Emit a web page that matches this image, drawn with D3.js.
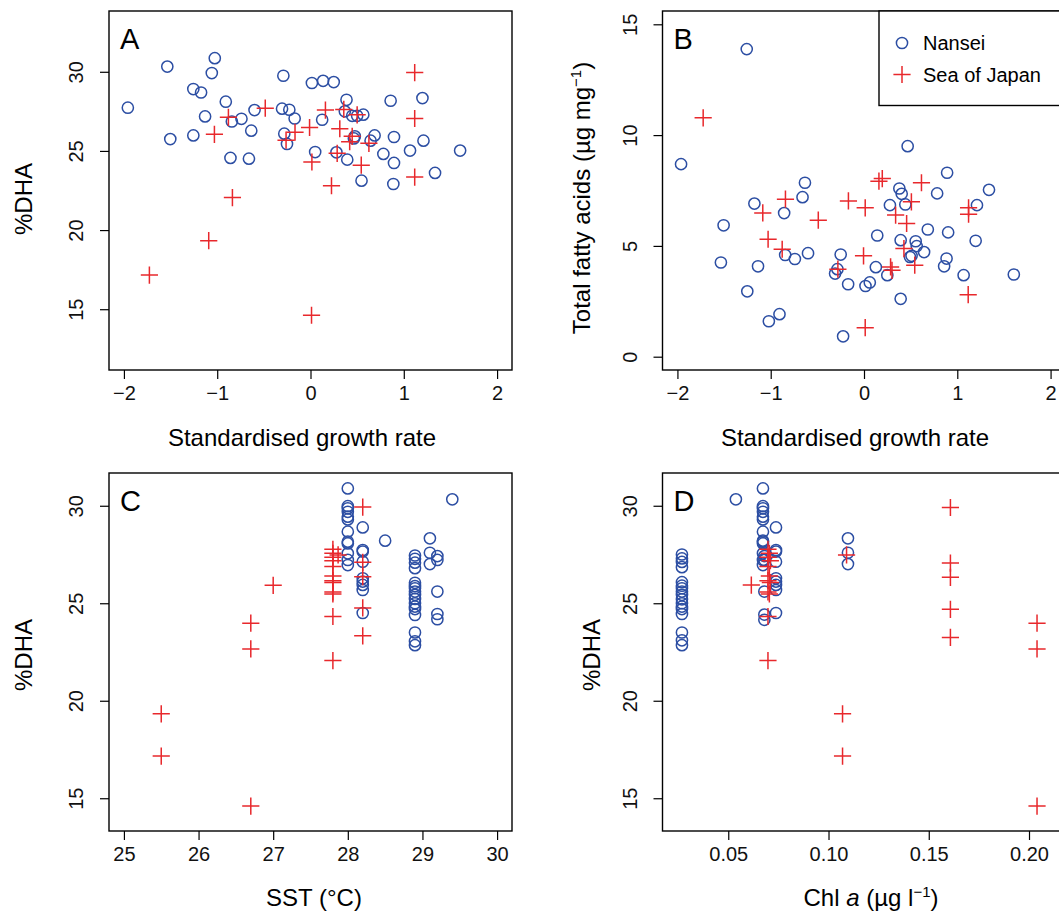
<!DOCTYPE html>
<html>
<head>
<meta charset="utf-8">
<script src="https://cdn.jsdelivr.net/npm/d3@7/dist/d3.min.js"></script>
<style>
  body { margin: 0; background: #fff; }
  svg { font-family: "Liberation Sans", Arial, Helvetica, sans-serif; }
</style>
</head>
<body>
<svg id="chart" width="1059" height="914"></svg>
<script>
'use strict';

/* Data: [x, %DHA] or [x, total FA] pairs */

// A: standardised growth rate vs %DHA
var growthDhaNansei = [
  [-1.958, 27.73], [-1.535, 30.33], [-1.503, 25.75], [-1.256, 28.91], [-1.173, 28.69],
  [-1.256, 25.98], [-1.13, 27.18], [-1.026, 30.86], [-1.058, 29.92], [-0.908, 28.11],
  [-0.843, 26.86], [-0.74, 27.03], [-0.858, 24.56], [-0.635, 26.28], [-0.66, 24.51],
  [-0.60, 27.58], [-0.291, 29.75], [-0.305, 27.67], [-0.227, 27.60], [-0.17, 27.05],
  [-0.281, 26.09], [-0.252, 25.44], [0.015, 29.29], [0.135, 29.43], [0.249, 29.35],
  [0.125, 26.97], [0.05, 24.93], [0.278, 24.91], [0.386, 28.23], [0.368, 27.50],
  [0.447, 27.22], [0.50, 27.22], [0.566, 27.29], [0.475, 25.92], [0.465, 25.79],
  [0.394, 24.45], [0.547, 23.12], [0.644, 25.65], [0.687, 25.98], [0.781, 24.81],
  [0.859, 28.17], [0.895, 25.88], [0.895, 24.24], [0.888, 22.91], [1.067, 25.02],
  [1.2, 28.34], [1.211, 25.65], [1.335, 23.61], [1.604, 25.02]
];
var growthDhaJapan = [
  [-1.727, 17.16], [-1.091, 19.33], [-0.837, 22.05], [-1.03, 26.05], [-0.88, 27.12],
  [-0.485, 27.70], [-0.262, 25.68], [-0.166, 26.18], [-0.01, 26.48], [0.015, 24.30],
  [0.011, 14.62], [0.16, 27.58], [0.225, 22.80], [0.314, 26.40], [0.286, 24.85],
  [0.357, 27.62], [0.50, 27.28], [0.42, 25.58], [0.447, 25.92], [0.544, 24.10],
  [0.626, 25.48], [1.117, 29.95], [1.117, 27.05], [1.117, 23.35]
];

// B: standardised growth rate vs total fatty acids
var growthTfaNansei = [
  [-1.257, 13.88], [-1.961, 8.69], [-0.633, 7.85], [-0.659, 7.20], [-1.175, 6.91],
  [-0.856, 6.48], [-1.505, 5.93], [-1.534, 4.25], [-1.136, 4.08], [-0.845, 4.59],
  [-0.741, 4.41], [-0.60, 4.67], [-1.251, 2.95], [-1.020, 1.60], [-0.906, 1.92],
  [-0.25, 4.61], [-0.285, 3.95], [-0.31, 3.75], [-0.17, 3.27], [-0.224, 0.92],
  [0.468, 9.50], [0.891, 8.30], [1.34, 7.53], [0.379, 7.59], [0.404, 7.35],
  [0.784, 7.37], [0.278, 6.84], [0.443, 6.87], [1.211, 6.84], [0.684, 5.74],
  [0.902, 5.61], [0.142, 5.47], [1.197, 5.23], [0.393, 5.26], [0.554, 5.21],
  [0.565, 4.99], [0.644, 4.72], [0.493, 4.50], [0.51, 4.55], [0.885, 4.43],
  [0.859, 4.08], [0.127, 4.04], [0.25, 3.68], [1.068, 3.68], [1.606, 3.71],
  [0.062, 3.35], [0.016, 3.19], [0.393, 2.61]
];
var growthTfaJapan = [
  [-1.724, 10.78], [-1.085, 6.49], [-0.842, 7.11], [-1.028, 5.30], [-0.877, 4.85],
  [-0.49, 6.16], [-0.28, 3.95], [-0.167, 7.03], [0.013, 6.72], [-0.005, 4.55],
  [0.013, 1.31], [0.16, 7.92], [0.196, 8.04], [0.339, 6.39], [0.508, 6.99],
  [0.457, 6.01], [0.616, 7.85], [0.428, 4.88], [0.544, 4.13], [0.30, 3.90],
  [0.285, 4.05], [1.121, 6.72], [1.121, 6.43], [1.117, 2.80]
];

// C: SST vs %DHA
var sstDhaNansei = [
  [28.0, 30.89], [28.0, 29.98], [28.0, 29.87], [28.0, 29.69], [28.0, 29.44], [28.0, 29.30],
  [28.0, 28.67], [28.0, 28.16], [28.0, 28.07], [28.0, 27.56], [28.0, 27.22], [28.0, 26.96],
  [28.2, 28.89], [28.2, 27.73], [28.2, 27.65], [28.2, 27.13], [28.2, 26.28], [28.2, 26.11],
  [28.2, 25.94], [28.2, 25.68], [28.2, 24.50], [28.5, 28.21], [29.4, 30.33],
  [28.9, 27.45], [28.9, 27.28], [28.9, 27.08], [28.9, 26.80], [28.9, 26.05], [28.9, 25.88],
  [28.9, 25.77], [28.9, 25.60], [28.9, 25.43], [28.9, 25.22], [28.9, 25.00], [28.9, 24.83],
  [28.9, 24.70], [28.9, 24.40], [28.9, 23.50], [28.9, 23.05], [28.9, 22.85],
  [29.1, 28.33], [29.1, 27.59], [29.1, 27.01],
  [29.2, 27.42], [29.2, 27.22], [29.2, 25.60], [29.2, 24.45], [29.2, 24.18]
];
var sstDhaJapan = [
  [25.5, 19.33], [25.5, 17.16], [26.7, 23.98], [26.7, 22.66], [26.7, 14.60], [27.0, 25.92],
  [27.8, 27.77], [27.8, 27.56], [27.8, 27.36], [27.8, 27.18], [27.8, 26.88], [27.8, 26.40],
  [27.8, 26.16], [27.8, 26.06], [27.8, 25.58], [27.8, 25.48], [27.8, 24.32], [27.8, 22.06],
  [27.87, 27.48],
  [28.2, 29.93], [28.2, 27.10], [28.2, 26.36], [28.2, 24.76], [28.2, 23.33]
];

// D: Chl a vs %DHA
var chlDhaNansei = [
  [0.0269, 27.50], [0.0269, 27.30], [0.0269, 27.12], [0.0269, 26.85], [0.0269, 26.08],
  [0.0269, 25.90], [0.0269, 25.77], [0.0269, 25.60], [0.0269, 25.43], [0.0269, 25.20],
  [0.0269, 25.00], [0.0269, 24.83], [0.0269, 24.70], [0.0269, 24.45], [0.0269, 23.50],
  [0.0269, 23.10], [0.0269, 22.85],
  [0.0538, 30.33],
  [0.0673, 30.89], [0.0673, 29.98], [0.0673, 29.87], [0.0673, 29.69], [0.0673, 29.44],
  [0.0673, 29.30], [0.0673, 28.67], [0.0673, 28.16], [0.0673, 28.07], [0.0673, 27.56],
  [0.0673, 27.22], [0.0673, 26.96], [0.0673, 28.21],
  [0.068, 27.42], [0.068, 27.22], [0.068, 25.60], [0.068, 24.42], [0.068, 24.15],
  [0.0738, 28.89], [0.0738, 27.73], [0.0738, 27.65], [0.0738, 27.13], [0.0738, 26.28],
  [0.0738, 26.11], [0.0738, 25.94], [0.0738, 25.68], [0.0738, 24.50],
  [0.1097, 28.33], [0.1097, 27.59], [0.1097, 27.01]
];
var chlDhaJapan = [
  [0.0615, 25.93],
  [0.0698, 27.77], [0.0705, 27.56], [0.0698, 27.36], [0.071, 27.18], [0.0698, 26.88],
  [0.0705, 26.40], [0.0698, 26.16], [0.071, 26.06], [0.0698, 25.58], [0.0705, 25.48],
  [0.0698, 24.32], [0.0698, 22.06],
  [0.109, 27.48], [0.107, 19.33], [0.107, 17.16],
  [0.1608, 29.91], [0.1608, 27.06], [0.1608, 26.33], [0.1608, 24.69], [0.1608, 23.25],
  [0.204, 23.98], [0.204, 22.66], [0.204, 14.60]
];

// tick values
var growthTicks = [-2, -1, 0, 1, 2];
var dhaTicks = [15, 20, 25, 30];
var tfaTicks = [0, 5, 10, 15];
var sstTicks = [25, 26, 27, 28, 29, 30];
var chlTicks = [0.05, 0.10, 0.15, 0.20];

var legendLabels = ['Nansei', 'Sea of Japan'];

var BLUE = '#2c4ea3';
var RED = '#e8282c';
var PANEL_W = 403;

var svg = d3.select('#chart');

function drawCircles(g, data, x, y) {
  g.selectAll(null).data(data).enter().append('circle')
    .attr('cx', function(d) { return x(d[0]); })
    .attr('cy', function(d) { return y(d[1]); })
    .attr('r', 5.6)
    .attr('fill', 'none')
    .attr('stroke', BLUE)
    .attr('stroke-width', 1.5);
}

function drawCrosses(g, data, x, y) {
  g.selectAll(null).data(data).enter().append('path')
    .attr('transform', function(d) { return 'translate(' + x(d[0]) + ',' + y(d[1]) + ')'; })
    .attr('d', 'M-8.6,0H8.6M0,-8.6V8.6')
    .attr('fill', 'none')
    .attr('stroke', RED)
    .attr('stroke-width', 1.5);
}

function drawPanel(cfg) {
  var g = svg.append('g');
  var x = d3.scaleLinear().domain(cfg.xDomain).range([cfg.left, cfg.left + PANEL_W]);
  var y = d3.scaleLinear().domain(cfg.yDomain).range([cfg.bottom, cfg.top]);

  var xAxis = g.append('g')
    .attr('transform', 'translate(0,' + cfg.bottom + ')')
    .call(d3.axisBottom(x).tickValues(cfg.xTicks).tickFormat(cfg.xFormat || d3.format('d'))
      .tickSize(9).tickPadding(7));
  var yAxis = g.append('g')
    .attr('transform', 'translate(' + cfg.left + ',0)')
    .call(d3.axisLeft(y).tickValues(cfg.yTicks).tickFormat(d3.format('d')).tickSize(9));

  [xAxis, yAxis].forEach(function(a) {
    a.select('.domain').remove();
    a.selectAll('line').attr('stroke', '#000').attr('stroke-width', 1.2);
    a.selectAll('text').attr('fill', '#111').style('font-size', '20px');
  });
  // y tick labels are parallel to the axis, as in R
  yAxis.selectAll('text')
    .attr('x', null).attr('dy', '0.35em')
    .attr('transform', 'translate(-33,0) rotate(-90)')
    .attr('text-anchor', 'middle');

  drawCircles(g, cfg.nansei, x, y);
  drawCrosses(g, cfg.japan, x, y);

  g.append('rect')
    .attr('x', cfg.left).attr('y', cfg.top)
    .attr('width', PANEL_W).attr('height', cfg.bottom - cfg.top)
    .attr('fill', 'none').attr('stroke', '#000').attr('stroke-width', 1.4);

  g.append('text')
    .attr('x', cfg.left + 11).attr('y', cfg.top + 38)
    .style('font-size', '29px')
    .text(cfg.letter);

  var xt = g.append('text')
    .attr('x', cfg.xTitleX).attr('y', cfg.xTitleY)
    .attr('text-anchor', 'middle')
    .style('font-size', '24px');
  cfg.xTitle(xt);

  var yt = g.append('text')
    .attr('transform', 'translate(' + cfg.yTitleX + ',' + cfg.yTitleY + ') rotate(-90)')
    .attr('text-anchor', 'middle')
    .style('font-size', '24px');
  cfg.yTitle(yt);

  return g;
}

function plain(s) {
  return function(t) { t.text(s); };
}

drawPanel({
  letter: 'A', left: 109, top: 11, bottom: 370,
  xDomain: [-2.16, 2.16], yDomain: [11.16, 33.84],
  xTicks: growthTicks, yTicks: dhaTicks,
  nansei: growthDhaNansei, japan: growthDhaJapan,
  xTitleX: 302, xTitleY: 446, xTitle: plain('Standardised growth rate'),
  yTitleX: 32, yTitleY: 199, yTitle: plain('%DHA')
});

var panelB = drawPanel({
  letter: 'B', left: 662.5, top: 11, bottom: 370,
  xDomain: [-2.16, 2.16], yDomain: [-0.6, 15.6],
  xTicks: growthTicks, yTicks: tfaTicks,
  nansei: growthTfaNansei, japan: growthTfaJapan,
  xTitleX: 855, xTitleY: 446, xTitle: plain('Standardised growth rate'),
  yTitleX: 590, yTitleY: 198,
  yTitle: function(t) {
    t.append('tspan').text('Total fatty acids (\u00b5g mg');
    t.append('tspan').attr('dy', -9).style('font-size', '15px').text('\u22121');
    t.append('tspan').attr('dy', 9).text(')');
  }
});

drawPanel({
  letter: 'C', left: 109, top: 473, bottom: 831,
  xDomain: [24.8, 30.2], yDomain: [13.32, 31.68],
  xTicks: sstTicks, yTicks: dhaTicks,
  nansei: sstDhaNansei, japan: sstDhaJapan,
  xTitleX: 314, xTitleY: 906, xTitle: plain('SST (\u00b0C)'),
  yTitleX: 32, yTitleY: 655, yTitle: plain('%DHA')
});

drawPanel({
  letter: 'D', left: 662.5, top: 473, bottom: 831,
  xDomain: [0.0172, 0.2182], yDomain: [13.32, 31.68],
  xTicks: chlTicks, yTicks: dhaTicks, xFormat: d3.format('.2f'),
  nansei: chlDhaNansei, japan: chlDhaJapan,
  xTitleX: 871, xTitleY: 906,
  xTitle: function(t) {
    t.append('tspan').text('Chl ');
    t.append('tspan').style('font-style', 'italic').text('a');
    t.append('tspan').text(' (\u00b5g l');
    t.append('tspan').attr('dy', -9).style('font-size', '15px').text('\u22121');
    t.append('tspan').attr('dy', 9).text(')');
  },
  yTitleX: 600, yTitleY: 655, yTitle: plain('%DHA')
});

// legend in panel B
var legend = panelB.append('g');
legend.append('rect')
  .attr('x', 879).attr('y', 11).attr('width', 200).attr('height', 94.5)
  .attr('fill', '#fff').attr('stroke', '#000').attr('stroke-width', 1.4);
legend.append('circle')
  .attr('cx', 902).attr('cy', 43).attr('r', 5.6)
  .attr('fill', 'none').attr('stroke', BLUE).attr('stroke-width', 1.5);
legend.append('path')
  .attr('transform', 'translate(902,74.5)')
  .attr('d', 'M-8.6,0H8.6M0,-8.6V8.6')
  .attr('fill', 'none').attr('stroke', RED).attr('stroke-width', 1.5);
legend.selectAll('text.lab').data(legendLabels).enter().append('text')
  .attr('class', 'lab')
  .attr('x', 923)
  .attr('y', function(d, i) { return 43 + i * 31.5; })
  .attr('dy', '0.35em')
  .style('font-size', '20px')
  .text(function(d) { return d; });
</script>
</body>
</html>
